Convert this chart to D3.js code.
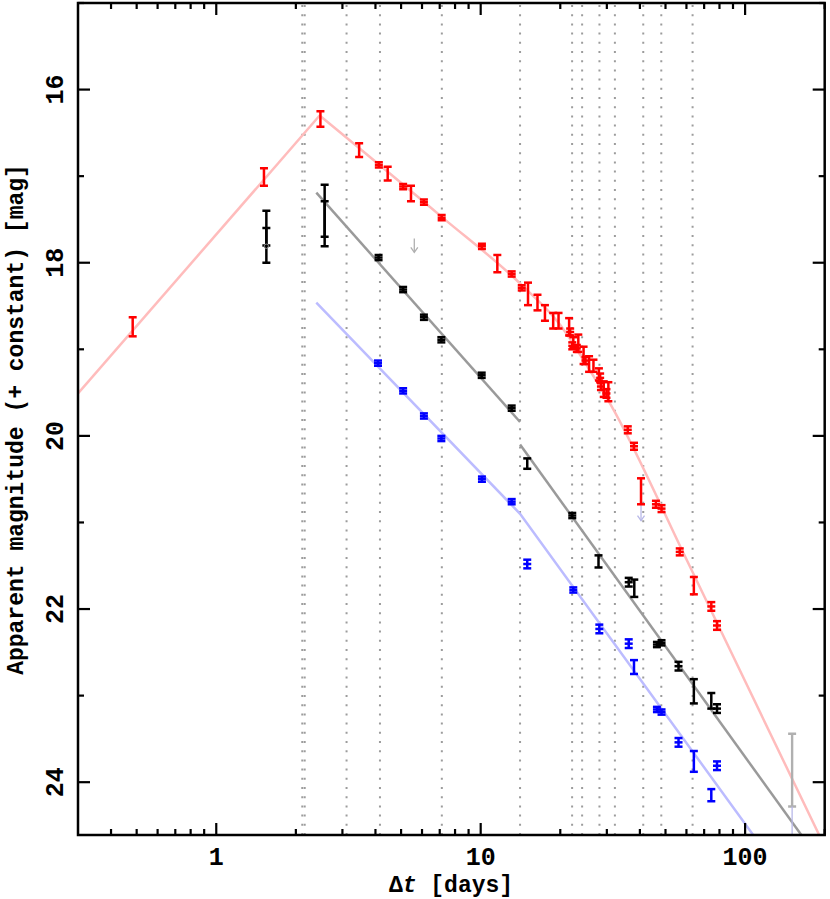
<!DOCTYPE html>
<html><head><meta charset="utf-8">
<script src="https://cdn.jsdelivr.net/npm/d3@7"></script>
<style>body{margin:0;background:#fff}svg{display:block}</style>
</head><body>
<svg id="c" width="830" height="899"></svg>
<script>
// ---------------- data ----------------
// [days, magnitude, error]
const redPoints = [
 [0.483,18.74,0.11],[1.515,17.01,0.10],[2.477,16.34,0.09],[3.47,16.70,0.08],
 [4.12,16.87,0.03],[4.45,16.97,0.08],[5.09,17.12,0.03],[5.45,17.20,0.09],
 [6.10,17.30,0.03],[7.12,17.48,0.03],[10.11,17.81,0.03],[11.56,18.01,0.10],
 [13.1,18.13,0.03],[14.3,18.29,0.03],[15.1,18.36,0.13],[16.4,18.46,0.09],
 [17.5,18.58,0.09],[18.8,18.67,0.09],[19.7,18.67,0.09],[21.6,18.74,0.10],
 [21.8,18.80,0.04],[22.4,18.92,0.06],[22.2,18.96,0.04],[23.4,18.93,0.10],
 [23.1,18.99,0.04],[24.5,19.07,0.10],[24.9,19.13,0.04],[25.7,19.17,0.09],
 [26.7,19.19,0.07],[28.0,19.29,0.07],[28.3,19.33,0.05],[28.5,19.43,0.04],
 [29.2,19.46,0.09],[29.9,19.51,0.05],[30.4,19.49,0.11],[36.0,19.93,0.04],
 [38.0,20.12,0.04],[40.4,20.64,0.15],[46.0,20.79,0.04],[48.3,20.84,0.04],
 [56.6,21.34,0.04],[64.0,21.73,0.10],[74.5,21.97,0.05],[78.3,22.19,0.05]
];
const blackPoints = [
 [1.547,17.60,0.20],[1.547,17.80,0.20],[2.57,17.40,0.30],[2.57,17.55,0.26],
 [4.11,17.94,0.03],[5.09,18.31,0.03],[6.10,18.63,0.03],[7.10,18.89,0.03],
 [10.09,19.30,0.03],[13.1,19.68,0.03],[15.0,20.32,0.06],[22.2,20.92,0.03],
 [27.9,21.45,0.07],[36.3,21.69,0.05],[38.1,21.76,0.10],[46.4,22.41,0.03],
 [48.3,22.39,0.03],[56.0,22.66,0.05],[64.0,22.95,0.14],[74.5,23.06,0.09],
 [78.3,23.15,0.05]
];
const bluePoints = [
 [4.09,19.16,0.03],[5.09,19.48,0.03],[6.10,19.77,0.03],[7.10,20.03,0.03],
 [10.11,20.50,0.03],[13.1,20.76,0.03],[15.0,21.48,0.05],[22.4,21.78,0.03],
 [28.1,22.23,0.05],[36.3,22.40,0.05],[38.0,22.67,0.08],[46.4,23.16,0.03],
 [48.3,23.19,0.03],[56.0,23.54,0.05],[64.0,23.76,0.12],[74.5,24.15,0.07],
 [78.3,23.81,0.05]
];
const grayBars = [[150.6,23.86,0.42]];
const grayCircles = [[1.547,17.81]];
// upper limits: [days, from mag, to mag]
const grayArrows = [[5.61,17.72,17.88]];
const blueArrows = [[40.4,20.79,20.98],[150.6,24.28,24.70]];

// model lines
const redRise = [[0.3,19.51],[2.46,16.30]];
const redDecay = [[2.46,16.30],[7.12,17.47],[14.09,18.24],[20,18.72],[25,19.17],[30.9,19.63],[60.3,21.44],[192,24.63]];
const grayFit1 = [[2.39,17.19],[14.09,19.84]];
const grayFit2 = [[14.09,20.10],[165,24.63]];
const blueFit = [[2.39,18.46],[14.09,20.90],[108.5,24.63]];

// vertical dotted epochs
const epochs = [2.115,2.16,3.11,4.16,7.13,14.09,22.17,24.19,28.13,32.18,41.19,48.2,63.3];

const xMajor = [1,10,100];
const xMinor = [0.4,0.5,0.6,0.7,0.8,0.9,2,3,4,5,6,7,8,9,20,30,40,50,60,70,80,90,200];
const yMajor = [16,18,20,22,24];
const yMinor = [15,17,19,21,23];

// ---------------- drawing ----------------
const L=78, R=824.7, T=3, B=835;
const svg = d3.select("#c");
const x = d3.scaleLog().domain([0.3,200]).range([L,R]);
const y = d3.scaleLinear().domain([15.0,24.61]).range([T,B]);

svg.append("defs").append("clipPath").attr("id","clip")
  .append("rect").attr("x",L).attr("y",T).attr("width",R-L).attr("height",B-T);
const plot = svg.append("g").attr("clip-path","url(#clip)");

// dotted epoch lines
plot.selectAll("line.ep").data(epochs).join("line")
  .attr("x1",d=>x(d)).attr("x2",d=>x(d)).attr("y1",T+2).attr("y2",B)
  .attr("stroke","#9c9c9c").attr("stroke-width",2).attr("stroke-dasharray","2,7.2");

// model lines
const line = d3.line().x(d=>x(d[0])).y(d=>y(d[1]));
const smooth = d3.line().x(d=>x(d[0])).y(d=>y(d[1])).curve(d3.curveMonotoneX);
plot.append("path").attr("d",line(redRise)).attr("fill","none").attr("stroke","#ffbcbc").attr("stroke-width",2.5);
plot.append("path").attr("d",smooth(redDecay)).attr("fill","none").attr("stroke","#ffbcbc").attr("stroke-width",2.5);
plot.append("path").attr("d",line(grayFit1)).attr("fill","none").attr("stroke","#9a9a9a").attr("stroke-width",2.5);
plot.append("path").attr("d",line(grayFit2)).attr("fill","none").attr("stroke","#9a9a9a").attr("stroke-width",2.5);
plot.append("path").attr("d",line(blueFit)).attr("fill","none").attr("stroke","#bcbcff").attr("stroke-width",2.5);

// error bars
function bars(data,color,w){
  const g = plot.append("g").attr("stroke",color).attr("stroke-width",w).attr("fill","none");
  data.forEach(d=>{
    const px=x(d[0]), y1=y(d[1]-d[2]), y2=y(d[1]+d[2]);
    g.append("line").attr("x1",px).attr("x2",px).attr("y1",y1).attr("y2",y2);
    g.append("line").attr("x1",px-4).attr("x2",px+4).attr("y1",y1).attr("y2",y1);
    g.append("line").attr("x1",px-4).attr("x2",px+4).attr("y1",y2).attr("y2",y2);
    if(d[2]<=0.05){
      g.append("line").attr("x1",px-4).attr("x2",px+4).attr("y1",y(d[1])).attr("y2",y(d[1]));
    }
  });
}
function arrows(data,color){
  const g = plot.append("g").attr("stroke",color).attr("stroke-width",1.3).attr("fill","none");
  data.forEach(d=>{
    const px=x(d[0]), y1=y(d[1]), y2=y(d[2]);
    g.append("line").attr("x1",px).attr("x2",px).attr("y1",y1).attr("y2",y2);
    g.append("path").attr("d",`M${px-3.5},${y2-5}L${px},${y2}L${px+3.5},${y2-5}`);
  });
}
arrows(grayArrows,"#b0b0b0");
bars(grayBars,"#b0b0b0",2.4);
arrows(blueArrows,"#b8b8e8");
bars(blackPoints,"#000",2.5);
bars(bluePoints,"#0000ff",2.5);
bars(redPoints,"#ff0000",2.5);
plot.selectAll("circle.gc").data(grayCircles).join("circle")
  .attr("cx",d=>x(d[0])).attr("cy",d=>y(d[1])).attr("r",2.2)
  .attr("fill","none").attr("stroke","#888").attr("stroke-width",1);

// frame & ticks
const ax = svg.append("g").attr("stroke","#000").attr("stroke-width",2.2);
xMajor.forEach(v=>{
  ax.append("line").attr("x1",x(v)).attr("x2",x(v)).attr("y1",B).attr("y2",B-12);
  ax.append("line").attr("x1",x(v)).attr("x2",x(v)).attr("y1",T).attr("y2",T+12);
});
xMinor.forEach(v=>{
  ax.append("line").attr("x1",x(v)).attr("x2",x(v)).attr("y1",B).attr("y2",B-6);
  ax.append("line").attr("x1",x(v)).attr("x2",x(v)).attr("y1",T).attr("y2",T+6);
});
yMajor.forEach(v=>{
  ax.append("line").attr("x1",L).attr("x2",L+12).attr("y1",y(v)).attr("y2",y(v));
  ax.append("line").attr("x1",R).attr("x2",R-12).attr("y1",y(v)).attr("y2",y(v));
});
yMinor.forEach(v=>{
  ax.append("line").attr("x1",L).attr("x2",L+6).attr("y1",y(v)).attr("y2",y(v));
  ax.append("line").attr("x1",R).attr("x2",R-6).attr("y1",y(v)).attr("y2",y(v));
});
svg.append("rect").attr("x",L).attr("y",T).attr("width",R-L).attr("height",B-T)
  .attr("fill","none").attr("stroke","#000").attr("stroke-width",2.5);

// labels
const font = "'Liberation Mono', 'Courier New', monospace";
const xf = d3.format("d");
svg.selectAll("text.xt").data(xMajor).join("text")
  .attr("x",d=>x(d)).attr("y",865).attr("text-anchor","middle")
  .attr("font-family",font).attr("font-weight","bold").attr("font-size",25)
  .text(d=>xf(d));
svg.selectAll("text.yt").data(yMajor).join("text")
  .attr("transform",d=>`translate(63,${y(d)}) rotate(-90)`).attr("text-anchor","middle")
  .attr("font-family",font).attr("font-weight","bold").attr("font-size",25)
  .text(d=>xf(d));
const xl = svg.append("text").attr("x",451).attr("y",892).attr("text-anchor","middle")
  .attr("font-family",font).attr("font-weight","bold").attr("font-size",23);
xl.append("tspan").text("Δ");
xl.append("tspan").attr("font-style","italic").text("t");
xl.append("tspan").text(" [days]");
svg.append("text").attr("transform","translate(23,419.5) rotate(-90)").attr("text-anchor","middle")
  .attr("font-family",font).attr("font-weight","bold").attr("font-size",23)
  .text("Apparent magnitude (+ constant) [mag]");
</script>
</body></html>
